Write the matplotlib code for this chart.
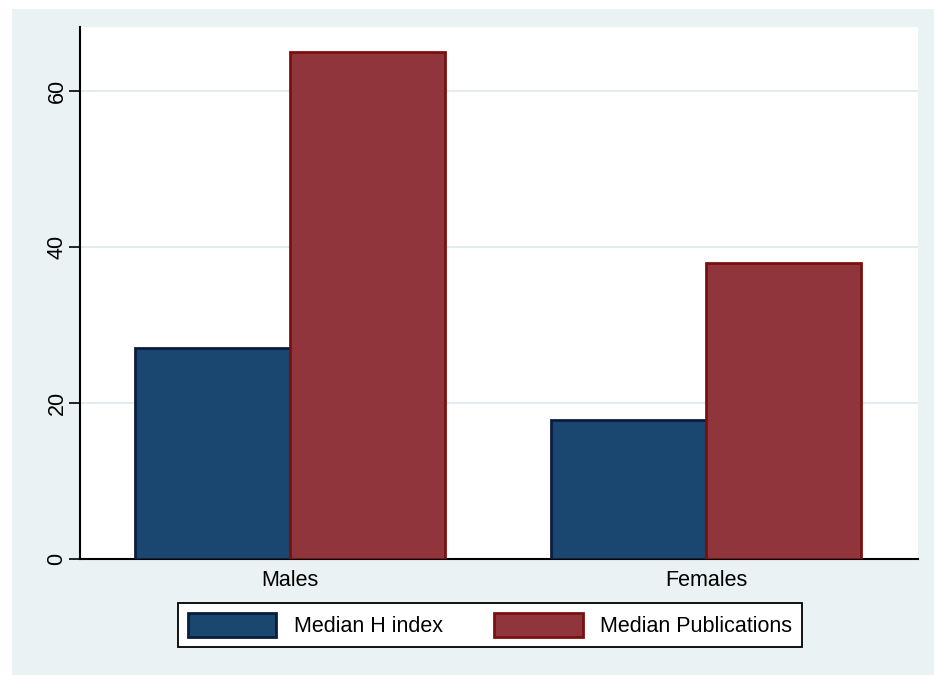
import numpy as np
import matplotlib.pyplot as plt
from matplotlib.patches import Rectangle, Patch

groups = ["Males", "Females"]
h_index = [27, 17.8]
publications = [65, 38]
series_names = ["Median H index", "Median Publications"]

navy = "#1a476f"
navy_edge = "#0b1c3f"
maroon = "#90353b"
maroon_edge = "#7a1010"
bg = "#eaf2f3"

plt.rcParams['font.family'] = ['Liberation Sans', 'DejaVu Sans']

fig = plt.figure(figsize=(9.34, 6.75), dpi=100, facecolor='white')
# Stata-like outer background
fig.patches.append(Rectangle((12/934, 0), 1 - 12/934, 1 - 9/675,
                             transform=fig.transFigure, facecolor=bg,
                             edgecolor='none', zorder=-10))

ax = fig.add_axes([80/934, 116/675, 838/934, 532/675])
ax.set_facecolor('white')

x = np.arange(len(groups))
w = 0.3726
ax.bar(x - w/2, h_index, w, color=navy, edgecolor=navy_edge, linewidth=2, zorder=3)
ax.bar(x + w/2, publications, w, color=maroon, edgecolor=maroon_edge, linewidth=2, zorder=3)

ax.set_xlim(-0.505, 1.51)
ax.set_ylim(0, 68.2)
ax.set_xticks(x)
ax.set_xticklabels(groups, fontsize=15.5)
ax.tick_params(axis='x', length=0, pad=8)
ax.set_yticks([0, 20, 40, 60])
ax.tick_params(axis='y', length=8, width=1.2, pad=1, labelsize=15.5)
for lbl in ax.get_yticklabels():
    lbl.set_rotation(90)
    lbl.set_va('center')

ax.set_axisbelow(True)
ax.yaxis.grid(True, color='#dde8ec', linewidth=1.2)

for s in ['top', 'right']:
    ax.spines[s].set_visible(False)
for s in ['left', 'bottom']:
    ax.spines[s].set_linewidth(1.5)
    ax.spines[s].set_color('black')

handles = [Patch(facecolor=navy, edgecolor=navy_edge, linewidth=2),
           Patch(facecolor=maroon, edgecolor=maroon_edge, linewidth=2)]
leg = fig.legend(handles, series_names, loc='center',
                 bbox_to_anchor=(490/934, 1 - 625/675), ncol=2,
                 fontsize=15.5, handlelength=4.1, handleheight=1.4,
                 handletextpad=0.8, columnspacing=2.4, borderpad=0.45,
                 borderaxespad=0, fancybox=False, framealpha=1,
                 edgecolor='black')
leg.get_frame().set_linewidth(1.3)

fig.savefig("out.png", dpi=100, facecolor='white')
